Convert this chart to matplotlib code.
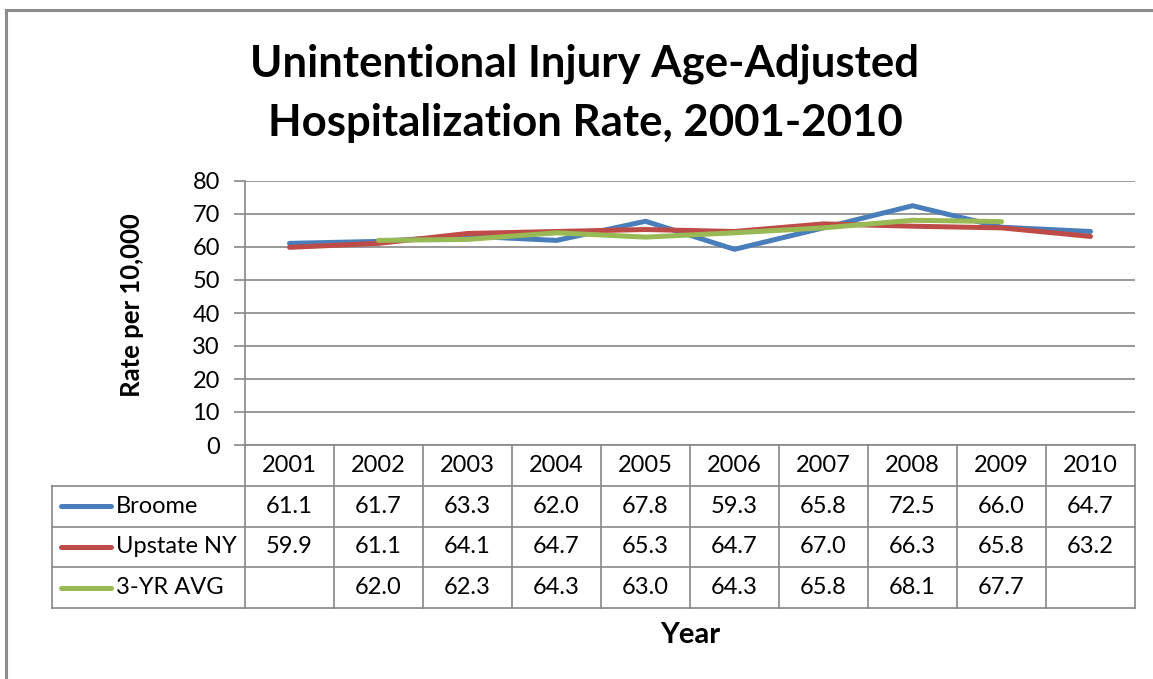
import matplotlib.pyplot as plt
from matplotlib.patches import Rectangle
import numpy as np

# data
years = ['2001', '2002', '2003', '2004', '2005', '2006', '2007', '2008', '2009', '2010']
broome = [61.1, 61.7, 63.3, 62.0, 67.8, 59.3, 65.8, 72.5, 66.0, 64.7]
upstate = [59.9, 61.1, 64.1, 64.7, 65.3, 64.7, 67.0, 66.3, 65.8, 63.2]
avg3 = [None, 62.0, 62.3, 64.3, 63.0, 64.3, 65.8, 68.1, 67.7, None]
series_names = ['Broome', 'Upstate NY', '3-YR AVG']
colors = ['#4A7EBB', '#BE4B48', '#98B954']

plt.rcParams['font.family'] = ['Lato', 'DejaVu Sans']
W, H = 1153, 679
fig = plt.figure(figsize=(W / 100, H / 100), dpi=100)
grid_col = '#878787'
fs = 17

def px_box(x0, y0, x1, y1):
    return [x0 / W, 1 - y1 / H, (x1 - x0) / W, (y1 - y0) / H]

# outer chart border
fig.patches.append(Rectangle((6 / W, -0.05), 1.2, 1 - 10 / H + 0.05, transform=fig.transFigure,
                             fill=False, edgecolor='#8c8c8c', linewidth=2.2))

ax = fig.add_axes(px_box(245, 181, 1135, 445))
x = np.arange(len(years))
all_series = [broome, upstate, avg3]
for vals, c in zip(all_series, colors):
    y = np.array([np.nan if v is None else v for v in vals])
    ax.plot(x, y, color=c, linewidth=3.6, solid_capstyle='round', zorder=3)

ax.set_xlim(-0.5, len(years) - 0.5)
ax.set_ylim(0, 80)
ax.set_yticks(range(0, 81, 10))
ax.set_xticks([])
ax.yaxis.grid(True, color=grid_col, linewidth=1.2)
ax.set_axisbelow(True)
for s in ['top', 'right', 'bottom']:
    ax.spines[s].set_visible(False)
ax.spines['left'].set_color(grid_col)
ax.spines['left'].set_linewidth(1.2)
ax.tick_params(axis='y', length=8, width=1.2, color=grid_col, labelsize=fs, pad=10)
ax.set_ylabel('Rate per 10,000', fontsize=18.5, fontweight='bold')
ax.yaxis.set_label_coords(-0.114, 0.53)

fig.text(585 / W, 1 - 64 / H, 'Unintentional Injury Age-Adjusted', ha='center', va='center',
         fontsize=31.5, fontweight='bold')
fig.text(585 / W, 1 - 123 / H, 'Hospitalization Rate, 2001-2010', ha='center', va='center',
         fontsize=31.5, fontweight='bold')

# data table under the plot
tab = fig.add_axes(px_box(52, 445, 1135, 608))
left = -0.5 - 193 / 89
tab.set_xlim(left, len(years) - 0.5)
tab.set_ylim(4, 0)
tab.axis('off')
lk = dict(color=grid_col, linewidth=1.2, clip_on=False)
tab.plot([-0.5, len(years) - 0.5], [0, 0], **lk)
for r in range(1, 5):
    tab.plot([left, len(years) - 0.5], [r, r], **lk)
for b in np.arange(-0.5, len(years), 1.0):
    tab.plot([b, b], [0, 4], **lk)
tab.plot([left, left], [1, 4], **lk)

for i, yr in enumerate(years):
    tab.text(i, 0.5, yr, ha='center', va='center', fontsize=fs)
for r, (name, vals, c) in enumerate(zip(series_names, all_series, colors), start=1):
    tab.plot([left + 0.1, left + 0.66], [r + 0.5, r + 0.5], color=c, linewidth=3.6,
             solid_capstyle='round', clip_on=False)
    tab.text(left + 0.72, r + 0.5, name, ha='left', va='center', fontsize=fs)
    for i, v in enumerate(vals):
        if v is not None:
            tab.text(i, r + 0.5, f'{v:.1f}', ha='center', va='center', fontsize=fs)

fig.text(690 / W, 1 - 635 / H, 'Year', ha='center', va='center', fontsize=21, fontweight='bold')

fig.savefig('out.png', dpi=100)
